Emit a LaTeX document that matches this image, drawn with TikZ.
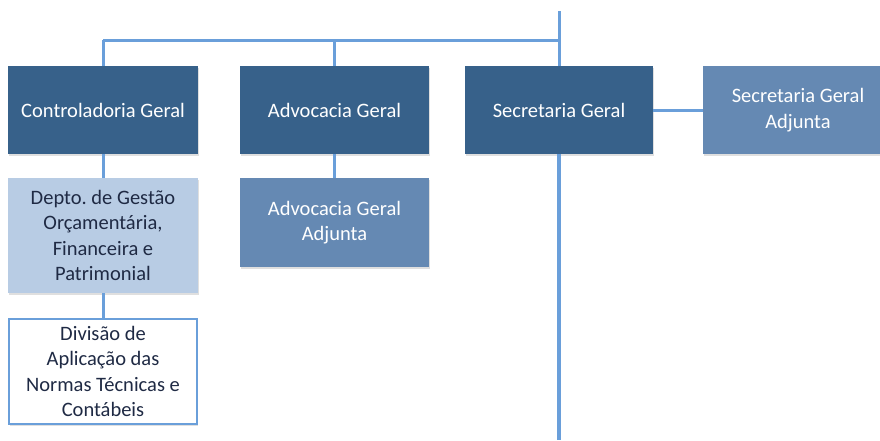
\documentclass[tikz,border=0pt]{standalone}
\usepackage{fontspec}
\setmainfont{Carlito}
\usetikzlibrary{shadows}
\definecolor{darkbox}{HTML}{37618A}
\definecolor{midbox}{HTML}{6589B3}
\definecolor{lightbox}{HTML}{B8CCE4}
\definecolor{linkblue}{HTML}{6A9FDA}
\definecolor{darktext}{HTML}{1F2A44}
\tikzset{
  orgbox/.style={rectangle, inner sep=2pt, align=center, font=\fontsize{20.5}{25.5}\selectfont,
    drop shadow={opacity=0.25, shadow xshift=1pt, shadow yshift=-1.5pt}},
  darkunit/.style={orgbox, fill=darkbox, text=white},
  midunit/.style={orgbox, fill=midbox, text=white},
  lightunit/.style={orgbox, fill=lightbox, text=darktext},
  whiteunit/.style={orgbox, fill=white, draw=linkblue, line width=2pt, text=darktext},
  link/.style={draw=linkblue, line width=3pt},
  thicklink/.style={draw=linkblue, line width=4.5pt}
}
\begin{document}
\frenchspacing
\begin{tikzpicture}[x=1pt,y=1pt]
\useasboundingbox (0,0) rectangle (880,-440);
\coordinate (top) at (559,-11);
\coordinate (bus) at (559,-40);
\coordinate (busL) at (103,-40);
\coordinate (busM) at (334.5,-40);
\coordinate (bottom) at (559,-440);

\node[darkunit, minimum width=190pt, minimum height=88pt] (cg) at (103,-110) {Controladoria Geral};
\node[darkunit, minimum width=189pt, minimum height=88pt] (ag) at (334.5,-110) {Advocacia Geral};
\node[darkunit, minimum width=188pt, minimum height=88pt] (sg) at (559,-110) {Secretaria Geral};
\node[midunit, minimum width=190pt, minimum height=88pt] (sga) at (798,-110) {Secretaria Geral\\Adjunta};
\node[lightunit, minimum width=190pt, minimum height=115pt] (dep) at (103,-235.5) {Depto. de Gestão\\Orçamentária,\\Financeira e\\Patrimonial};
\node[midunit, minimum width=189pt, minimum height=89pt] (aga) at (334.5,-222.5) {Advocacia Geral\\Adjunta};
\node[whiteunit, minimum width=188pt, minimum height=105pt] (div) at (103,-371.5) {Divisão de\\Aplicação das\\Normas Técnicas e\\Contábeis};

\draw[link] (top) -- (sg.north);
\draw[link] (busL) -- (bus);
\draw[link] (busL) -- (cg.north);
\draw[link] (busM) -- (ag.north);
\draw[link] (cg.south) -- (dep.north);
\draw[link] (dep.south) -- (div.north);
\draw[link] (ag.south) -- (aga.north);
\draw[link] (sg.east) -- (sga.west |- sg.east);
\draw[thicklink] (sg.south) -- (bottom);
\end{tikzpicture}
\end{document}
